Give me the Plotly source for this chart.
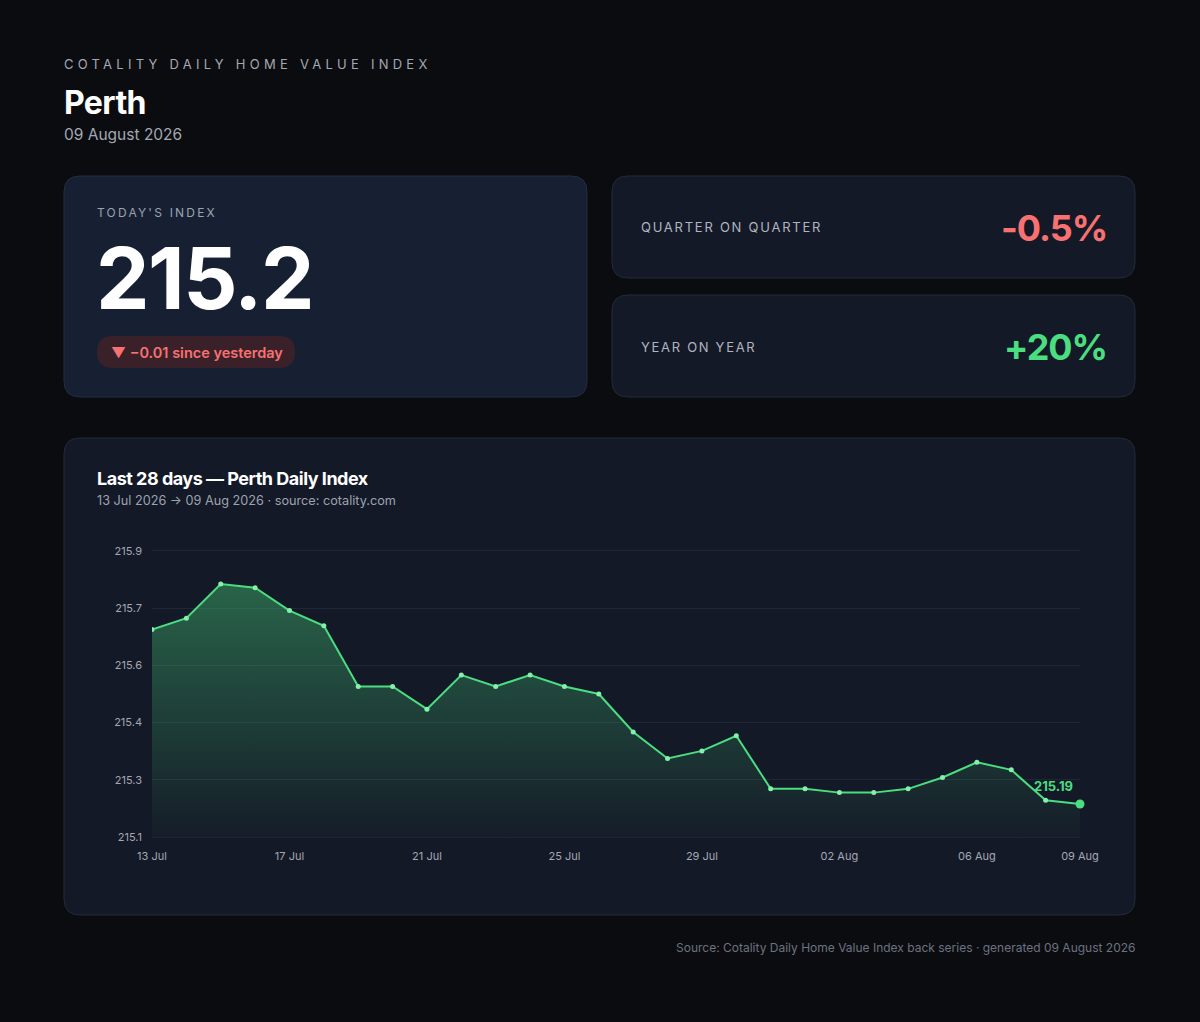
import plotly.graph_objects as go
import pandas as pd

# page size in px
W, H = 1200, 1022

# data
dates = pd.date_range("2026-07-13", "2026-08-09", freq="D")
index_values = [215.65, 215.68, 215.77, 215.76, 215.70, 215.66, 215.50, 215.50,
                215.44, 215.53, 215.50, 215.53, 215.50, 215.48, 215.38, 215.31,
                215.33, 215.37, 215.23, 215.23, 215.22, 215.22, 215.23, 215.26,
                215.30, 215.28, 215.20, 215.19]
tick_dates = ["2026-07-13", "2026-07-17", "2026-07-21", "2026-07-25",
              "2026-07-29", "2026-08-02", "2026-08-06", "2026-08-09"]
tick_labels = ["13 Jul", "17 Jul", "21 Jul", "25 Jul", "29 Jul", "02 Aug", "06 Aug", "09 Aug"]

todays_index = "215.2"
change_text = "▼ −0.01 since yesterday"
qoq_text = "-0.5%"
yoy_text = "+20%"

BG = "#0b0c10"
CARD = "#141927"
BORDER = "#222a38"
GRID = "#1f2736"
GREEN = "#4ade80"
RED = "#f87171"
FONT = "Inter"


def X(px):
    return px / W


def Y(py):
    return 1 - py / H


def rounded(x0, y0, x1, y1, r):
    # rounded rectangle path in paper coords from pixel box
    rx, ry = r / W, r / H
    a, b, c, d = X(x0), Y(y0), X(x1), Y(y1)
    return (f"M{a + rx},{b} L{c - rx},{b} Q{c},{b} {c},{b - ry} "
            f"L{c},{d + ry} Q{c},{d} {c - rx},{d} L{a + rx},{d} "
            f"Q{a},{d} {a},{d + ry} L{a},{b - ry} Q{a},{b} {a + rx},{b} Z")


ymin, ymax = min(index_values), max(index_values)
pad = (ymax - ymin) * 0.15
y_lo, y_hi = ymin - pad, ymax + pad
y_ticks = [y_lo + i * (y_hi - y_lo) / 5 for i in range(6)]

fig = go.Figure()

# baseline for the area fill
fig.add_trace(go.Scatter(x=dates, y=[y_lo] * len(dates), mode="lines",
                         line=dict(width=0), hoverinfo="skip", showlegend=False))
fig.add_trace(go.Scatter(
    x=dates, y=index_values, mode="lines+markers",
    line=dict(color=GREEN, width=2),
    marker=dict(size=5, color="#86efac"),
    fill="tonexty",
    fillgradient=dict(type="vertical", start=y_lo, stop=ymax,
                      colorscale=[[0, "rgba(74,222,128,0.02)"], [1, "rgba(74,222,128,0.38)"]]),
    showlegend=False))
fig.add_trace(go.Scatter(x=[dates[-1]], y=[index_values[-1]], mode="markers",
                         marker=dict(size=9, color=GREEN), cliponaxis=False,
                         showlegend=False))

shapes = [
    dict(type="path", path=rounded(64, 176, 587, 397, 16), xref="paper", yref="paper",
         fillcolor="#172033", line=dict(color="#232d40", width=1), layer="below"),
    dict(type="path", path=rounded(612, 176, 1135, 278, 16), xref="paper", yref="paper",
         fillcolor=CARD, line=dict(color=BORDER, width=1), layer="below"),
    dict(type="path", path=rounded(612, 295, 1135, 397, 16), xref="paper", yref="paper",
         fillcolor=CARD, line=dict(color=BORDER, width=1), layer="below"),
    dict(type="path", path=rounded(64, 438, 1135, 915, 16), xref="paper", yref="paper",
         fillcolor=CARD, line=dict(color=BORDER, width=1), layer="below"),
    dict(type="path", path=rounded(97, 336, 295, 368, 16), xref="paper", yref="paper",
         fillcolor="#3a2129", line=dict(width=0), layer="below"),
]


def txt(x, y, text, size, color, anchor="left", weight=None, spacing=None):
    t = text
    if spacing is not None:
        t = f'<span style="letter-spacing:{spacing}px">{text}</span>'
    # annotation boxes carry a little padding, pull the text back onto its edge
    shift = -2 if anchor == "left" else 2
    return dict(x=X(x), y=Y(y), xref="paper", yref="paper", text=t, showarrow=False,
                xanchor=anchor, yanchor="middle", xshift=shift,
                font=dict(family=FONT, size=size, color=color, weight=weight))


annotations = [
    txt(64, 64, "COTALITY DAILY HOME VALUE INDEX", 13, "#a3a8b3", spacing=4.25),
    txt(64, 102, "Perth", 32, "#ffffff", weight=700, spacing=-0.6),
    txt(64, 134, "09 August 2026", 15.5, "#a3a8b3"),
    txt(97, 212, "TODAY'S INDEX", 12, "#9ca3af", spacing=2.2),
    txt(96, 278, todays_index, 85, "#ffffff", weight=700, spacing=-1.5),
    txt(111, 352, change_text, 14.5, RED, weight=600),
    txt(641, 227, "QUARTER ON QUARTER", 13, "#b0b5c0", spacing=1.75),
    txt(1107, 228, qoq_text, 36, RED, anchor="right", weight=700, spacing=-1),
    txt(641, 347, "YEAR ON YEAR", 13, "#b0b5c0", spacing=1.7),
    txt(1107, 347, yoy_text, 36, GREEN, anchor="right", weight=700, spacing=-1),
    txt(97, 478, "Last 28 days — Perth Daily Index", 18, "#ffffff", weight=700, spacing=-0.5),
    txt(97, 500, "13 Jul 2026 → 09 Aug 2026 · source: cotality.com", 12.7, "#9ca3af"),
    txt(1135, 947, "Source: Cotality Daily Home Value Index back series · generated 09 August 2026",
        12, "#6b7280", anchor="right"),
    dict(x=dates[-1], y=index_values[-1], xref="x", yref="y", text=f"{index_values[-1]:.2f}",
         showarrow=False, xanchor="right", yanchor="bottom", xshift=-5, yshift=8,
         font=dict(family=FONT, size=13, color=GREEN, weight=700)),
]

fig.update_layout(
    width=W, height=H, autosize=False,
    margin=dict(l=0, r=0, t=0, b=0, pad=0, autoexpand=False),
    paper_bgcolor=BG, plot_bgcolor="rgba(0,0,0,0)",
    font=dict(family=FONT, color="#9ca3af"),
    shapes=shapes, annotations=annotations,
    showlegend=False,
    xaxis=dict(domain=[X(152), X(1080)], range=[dates[0], dates[-1]],
               tickvals=pd.to_datetime(tick_dates), ticktext=tick_labels,
               showgrid=False, zeroline=False, showline=True, mirror=True,
               linecolor=GRID, linewidth=1, ticks="", ticklabelstandoff=9,
               tickfont=dict(size=11, color="#a3a8b3")),
    yaxis=dict(domain=[Y(837), Y(551)], range=[y_lo, y_hi],
               tickvals=y_ticks, ticktext=[f"{v:.1f}" for v in y_ticks],
               gridcolor=GRID, gridwidth=1, zeroline=False, showline=False,
               ticks="", ticklabelstandoff=9,
               tickfont=dict(size=11, color="#a3a8b3")),
    hovermode=False,
)

fig.write_html("out.html", config={"displayModeBar": False},
               post_script="document.body.style.margin='0';")
